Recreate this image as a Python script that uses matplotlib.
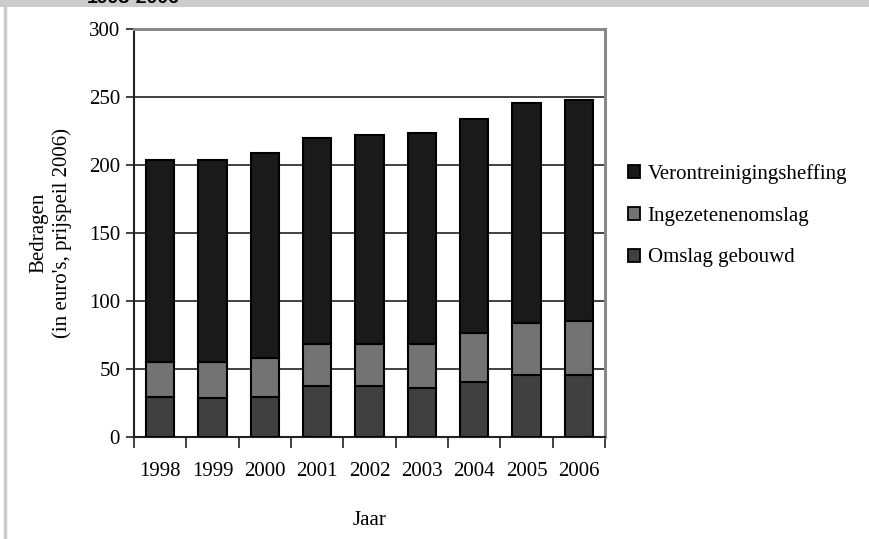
import numpy as np
import matplotlib.pyplot as plt
from matplotlib.patches import Rectangle
from matplotlib.lines import Line2D

plt.rcParams['font.family'] = ['Liberation Serif', 'DejaVu Serif']

years = ['1998', '1999', '2000', '2001', '2002', '2003', '2004', '2005', '2006']
omslag_gebouwd = [29.3, 28.6, 29.3, 37.0, 37.0, 36.0, 40.2, 45.3, 45.3]
ingezetenenomslag = [25.9, 26.6, 28.8, 31.2, 31.2, 32.2, 35.9, 38.2, 39.4]
verontreiniging = [148.2, 148.2, 150.5, 151.7, 153.7, 154.9, 157.6, 161.8, 162.5]

c_omslag = '#404040'
c_ingez = '#737373'
c_veron = '#1a1a1a'

fig = plt.figure(figsize=(8.7, 5.39), dpi=100)
ax = fig.add_axes([0.154, 0.19, 0.5415, 0.757])

x = np.arange(len(years))
w = 0.54
b1 = np.array(omslag_gebouwd)
b2 = b1 + np.array(ingezetenenomslag)
kw = dict(width=w, edgecolor='black', linewidth=1.5, zorder=3)
ax.bar(x, omslag_gebouwd, color=c_omslag, **kw)
ax.bar(x, ingezetenenomslag, bottom=b1, color=c_ingez, **kw)
ax.bar(x, verontreiniging, bottom=b2, color=c_veron, **kw)

ax.set_xlim(-0.5, len(years) - 0.5)
ax.set_ylim(0, 300)
ax.set_yticks(range(0, 301, 50))
ax.yaxis.grid(True, color='#333333', linewidth=1.3, zorder=0)
ax.set_axisbelow(True)

# category boundaries carry the x ticks, labels sit at the centres
ax.set_xticks(np.arange(-0.5, len(years), 1.0))
ax.set_xticklabels([])
ax.set_xticks(x, minor=True)
ax.set_xticklabels(years, minor=True, fontsize=15)
ax.tick_params(axis='x', which='major', direction='out', length=8, width=1.2, color='#222222')
ax.tick_params(axis='x', which='minor', length=0, pad=18)
ax.tick_params(axis='y', direction='out', length=6, width=1.2, labelsize=15, pad=4, color='#222222')

for side in ['top', 'right']:
    ax.spines[side].set_color('#888888')
    ax.spines[side].set_linewidth(2.2)
for side in ['left', 'bottom']:
    ax.spines[side].set_color('#222222')
    ax.spines[side].set_linewidth(1.5)

ax.set_xlabel('Jaar', fontsize=15, labelpad=22)
ax.set_ylabel("Bedragen\n(in euro's, prijspeil 2006)", fontsize=15, labelpad=12, linespacing=1.3)

handles = [Rectangle((0, 0), 1, 1, facecolor=c, edgecolor='black', linewidth=1.3)
           for c in (c_veron, c_ingez, c_omslag)]
labels = ['Verontreinigingsheffing', 'Ingezetenenomslag', 'Omslag gebouwd']
fig.legend(handles, labels, loc='center left', bbox_to_anchor=(0.7, 0.6),
           frameon=False, fontsize=15, handlelength=0.6, handleheight=0.6,
           handletextpad=0.35, labelspacing=1.1)

# grey frame around the figure
fig.patches.append(Rectangle((0, 1 - 7 / 539), 1, 7 / 539, transform=fig.transFigure,
                             facecolor='#cccccc', edgecolor='none', zorder=0))
fig.lines.append(Line2D([5 / 870, 5 / 870], [0, 1], transform=fig.transFigure,
                        color='#cccccc', linewidth=2.5))
fig.text(87 / 870, 1 - 3 / 539, '1998-2006', family='Liberation Sans', fontweight='bold',
         fontsize=14, va='baseline', ha='left', color='black')

fig.savefig('out.png', dpi=100)
